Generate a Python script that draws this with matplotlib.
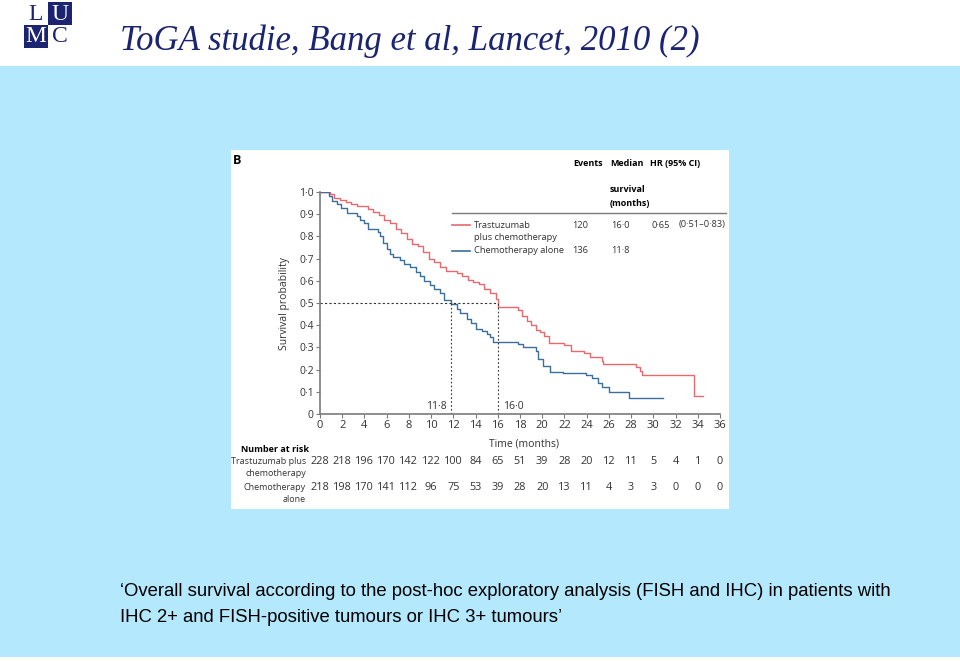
import matplotlib
matplotlib.use('Agg')
import matplotlib.pyplot as plt
from matplotlib.patches import Rectangle

# Kaplan-Meier steps (months, survival)
tras_t = [0, 0.9, 1.3, 1.8, 2.3, 2.8, 3.3, 4.3, 4.8, 5.3, 5.8, 6.3, 6.8, 7.3, 7.8, 8.3,
          8.8, 9.3, 9.8, 10.3, 10.8, 11.3, 12.3, 12.8, 13.3, 13.8, 14.3, 14.8, 15.3, 15.8,
          16.0, 17.8, 18.2, 18.6, 19.0, 19.4, 19.8, 20.2, 20.6, 22.0, 22.6, 23.8, 24.3,
          25.4, 25.5, 28.4, 28.8, 29.0, 33.7, 34.5]
tras_s = [1.0, 0.99, 0.975, 0.965, 0.955, 0.945, 0.935, 0.925, 0.91, 0.895, 0.875, 0.86,
          0.835, 0.815, 0.79, 0.765, 0.755, 0.73, 0.70, 0.685, 0.66, 0.645, 0.635, 0.62,
          0.605, 0.595, 0.585, 0.565, 0.545, 0.52, 0.48, 0.47, 0.44, 0.42, 0.40, 0.38,
          0.37, 0.35, 0.32, 0.31, 0.285, 0.275, 0.255, 0.24, 0.225, 0.21, 0.195, 0.175,
          0.083, 0.083]

chemo_t = [0, 0.8, 1.1, 1.5, 1.9, 2.4, 3.3, 3.6, 4.0, 4.3, 5.2, 5.4, 5.7, 6.0, 6.3, 6.6,
           7.2, 7.6, 8.1, 8.6, 9.0, 9.4, 9.9, 10.3, 10.8, 11.2, 11.8, 12.3, 12.6, 13.2,
           13.6, 14.0, 14.6, 15.0, 15.3, 15.6, 17.8, 18.3, 19.4, 19.6, 20.1, 20.7, 21.9,
           23.9, 24.5, 25.0, 25.4, 26.0, 27.8, 30.9]
chemo_s = [1.0, 0.98, 0.96, 0.945, 0.93, 0.905, 0.89, 0.875, 0.86, 0.835, 0.82, 0.80,
           0.77, 0.745, 0.72, 0.705, 0.695, 0.675, 0.66, 0.64, 0.62, 0.60, 0.58, 0.565,
           0.545, 0.515, 0.495, 0.475, 0.455, 0.43, 0.41, 0.385, 0.375, 0.36, 0.345,
           0.325, 0.315, 0.30, 0.285, 0.25, 0.215, 0.19, 0.183, 0.175, 0.16, 0.14, 0.12,
           0.10, 0.071, 0.071]

risk_times = list(range(0, 37, 2))
risk_tras = [228, 218, 196, 170, 142, 122, 100, 84, 65, 51, 39, 28, 20, 12, 11, 5, 4, 1, 0]
risk_chemo = [218, 198, 170, 141, 112, 96, 75, 53, 39, 28, 20, 13, 11, 4, 3, 3, 0, 0, 0]

median_tras = 16.0
median_chemo = 11.8
y_ticks = [0, 0.1, 0.2, 0.3, 0.4, 0.5, 0.6, 0.7, 0.8, 0.9, 1.0]

RED = '#e8696d'
BLUE = '#3c6e9c'
GREY = '#7a7a7a'
NAVY = '#1b2470'
TXT = '#333333'
FONT = ['Liberation Sans Narrow', 'Open Sans', 'DejaVu Sans']

W, H = 960, 661


def fx(x):
    return x / W


def fy(y):
    return 1 - y / H


def dot(v):
    return '0' if v == 0 else '{:.1f}'.format(v).replace('.', '\u00b7')


fig = plt.figure(figsize=(9.6, 6.61), dpi=100)
fig.patch.set_facecolor('white')

# slide background band and chart panel
fig.patches.append(Rectangle((0, fy(657)), 1, fy(66) - fy(657), transform=fig.transFigure,
                             facecolor='#b4e8fc', edgecolor='none', zorder=-2))
fig.patches.append(Rectangle((fx(231), fy(509)), fx(498), 359 / H, transform=fig.transFigure,
                             facecolor='white', edgecolor='none', zorder=-1))

# LUMC logo
cells = [(24, 2, 'L', 'white', NAVY), (48, 2, 'U', NAVY, 'white'),
         (24, 25, 'M', NAVY, 'white'), (48, 25, 'C', 'white', NAVY)]
for x0, y0, ch, bg, fg in cells:
    fig.patches.append(Rectangle((fx(x0), fy(y0 + 23)), fx(24), 23 / H, transform=fig.transFigure,
                                 facecolor=bg, edgecolor='none', zorder=-1))
    fig.text(fx(x0 + 12), fy(y0 + 12), ch, color=fg, fontsize=17, family='Liberation Serif',
             ha='center', va='center')

fig.text(fx(120), fy(41), 'ToGA studie, Bang et al, Lancet, 2010 (2)', color=NAVY,
         fontsize=25, family='Liberation Serif', style='italic', va='center')

fig.text(fx(120), fy(591), '\u2018Overall survival according to the post-hoc exploratory analysis '
         '(FISH and IHC) in patients with', fontsize=13.3, family='Liberation Sans', va='center')
fig.text(fx(120), fy(617), 'IHC 2+ and FISH-positive tumours or IHC 3+ tumours\u2019',
         fontsize=13.3, family='Liberation Sans', va='center')

# Kaplan-Meier axes
ax = fig.add_axes([fx(320), fy(414), fx(400), 222 / H])
ax.set_zorder(2)
ax.set_facecolor('none')
ax.step(tras_t, tras_s, where='post', color=RED, lw=1.0)
ax.step(chemo_t, chemo_s, where='post', color=BLUE, lw=1.0)

ax.plot([0, median_tras], [0.5, 0.5], ls=(0, (2, 2)), color='#333333', lw=0.8)
ax.plot([median_chemo, median_chemo], [0, 0.5], ls=(0, (1.5, 2)), color='#333333', lw=0.8)
ax.plot([median_tras, median_tras], [0, 0.5], ls=(0, (1.5, 2)), color='#333333', lw=0.8)
ax.text(median_chemo - 0.4, 0.035, dot(median_chemo), ha='right', va='center', fontsize=7.5,
        family=FONT, color=TXT)
ax.text(median_tras + 0.5, 0.035, dot(median_tras), ha='left', va='center', fontsize=7.5,
        family=FONT, color=TXT)

ax.set_xlim(0, 36)
ax.set_ylim(0, 1.0)
ax.set_xticks(risk_times)
ax.set_xticklabels([str(t) for t in risk_times], fontsize=8, family=FONT)
ax.set_yticks(y_ticks)
ax.set_yticklabels([dot(v) for v in y_ticks], fontsize=7.5, family=FONT)
for s in ['top', 'right']:
    ax.spines[s].set_visible(False)
for s in ['left', 'bottom']:
    ax.spines[s].set_color(GREY)
    ax.spines[s].set_linewidth(1.2)
ax.tick_params(colors=GREY, labelcolor=TXT, length=3, width=0.8, pad=1.5)
ax.set_xlabel('Time (months)', fontsize=7.5, family=FONT, color=TXT)
ax.set_ylabel('Survival probability', fontsize=7.5, family=FONT, color=TXT)
ax.xaxis.set_label_coords((524 - 320) / 400, -0.11)
ax.yaxis.set_label_coords(-0.075, 0.5)

# header and legend
fig.text(fx(233), fy(160), 'B', fontsize=9, weight='bold', family=FONT, va='center')
fig.text(fx(573), fy(163), 'Events', fontsize=6.5, weight='bold', family=FONT, va='center')
fig.text(fx(610), fy(163), 'Median', fontsize=6.5, weight='bold', family=FONT, va='center')
fig.text(fx(610), fy(189), 'survival', fontsize=6.5, weight='bold', family=FONT, va='center')
fig.text(fx(610), fy(203), '(months)', fontsize=6.5, weight='bold', family=FONT, va='center')
fig.text(fx(650), fy(163), 'HR (95% CI)', fontsize=6.5, weight='bold', family=FONT, va='center')
fig.add_artist(plt.Line2D([fx(452), fx(726)], [fy(213), fy(213)], color=GREY, lw=1))
fig.add_artist(plt.Line2D([fx(452), fx(470)], [fy(225), fy(225)], color=RED, lw=1.2))
fig.add_artist(plt.Line2D([fx(452), fx(470)], [fy(251), fy(251)], color=BLUE, lw=1.2))
leg_rows = [(225, 'Trastuzumab', '120', dot(median_tras), '0\u00b765', '(0\u00b751\u20130\u00b783)'),
            (238, 'plus chemotherapy', '', '', '', ''),
            (251, 'Chemotherapy alone', '136', dot(median_chemo), '', '')]
for y, lab, ev, med, hr, ci in leg_rows:
    for x, s in [(474, lab), (572, ev), (611, med), (652, hr), (679, ci)]:
        fig.text(fx(x), fy(y), s, fontsize=6.7, family=FONT, va='center', color=TXT)

# number at risk
fig.text(fx(241), fy(450), 'Number at risk', fontsize=6.5, weight='bold', family=FONT,
         va='center')
for y, s in [(461, 'Trastuzumab plus'), (474, 'chemotherapy'), (487, 'Chemotherapy'),
             (500, 'alone')]:
    fig.text(fx(306), fy(y), s, fontsize=6.5, family=FONT, va='center', ha='right', color=TXT)
for t, a, b in zip(risk_times, risk_tras, risk_chemo):
    ax.annotate(str(a), (t, fy(461)), xycoords=('data', 'figure fraction'), fontsize=7.8,
                family=FONT, ha='center', va='center', annotation_clip=False, color=TXT)
    ax.annotate(str(b), (t, fy(487)), xycoords=('data', 'figure fraction'), fontsize=7.8,
                family=FONT, ha='center', va='center', annotation_clip=False, color=TXT)

fig.savefig('out.png', dpi=100)
